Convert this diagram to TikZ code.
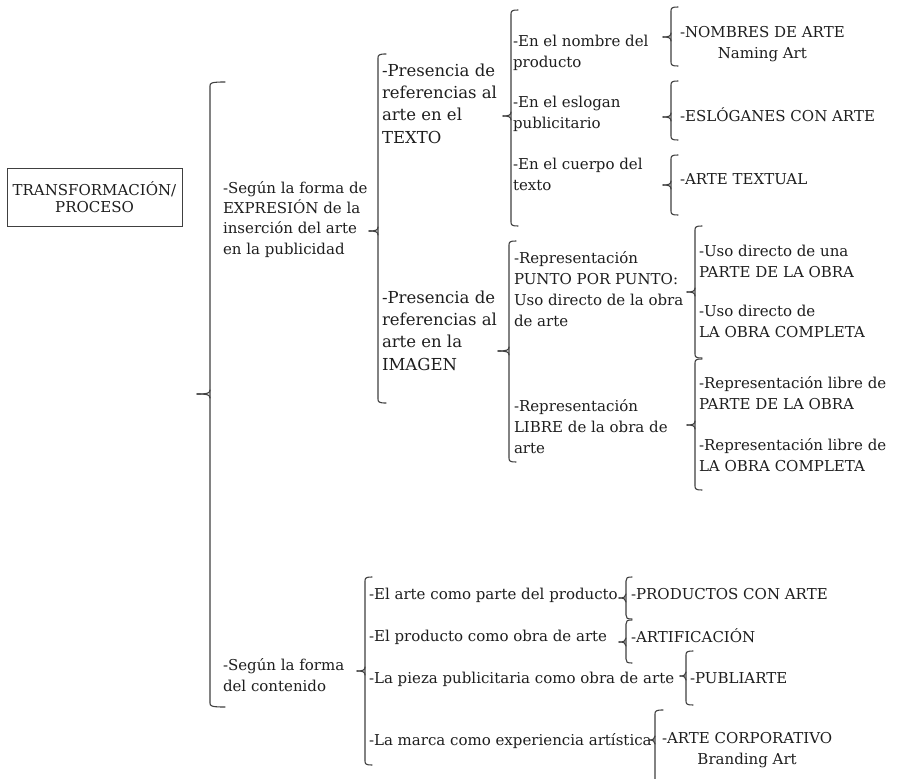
\documentclass[tikz,border=0pt]{standalone}
\usepackage{fontspec}
\setmainfont{DejaVu Serif}
\definecolor{textc}{HTML}{1E1E1E}
\definecolor{linec}{HTML}{404040}
\newcommand\bracketx[6]{%
  \draw[brline] ({#1+#6},#2) .. controls ({#1+1},#2) and (#1,{#2+1}) .. (#1,{#2+4})
    -- (#1,{#4-4}) .. controls (#1,{#4-1}) and ({#1+1},#4) .. ({#1+#6},#4);
  \draw[brline] ({#1-#5},#3) .. controls ({#1-2},#3) and (#1,{#3-1}) .. (#1,{#3-4});
  \draw[brline] ({#1-#5},#3) .. controls ({#1-2},#3) and (#1,{#3+1}) .. (#1,{#3+4});
}
\tikzset{
  brline/.style={draw=linec, line width=1.1pt, line cap=round},
  txt/.style={anchor=base west, inner sep=0pt, outer sep=0pt, align=left, text=textc,
    font=\fontsize{15}{21}\selectfont},
  txtc/.style={txt, align=center},
  bigtxt/.style={txt, font=\fontsize{16.5}{22.3}\selectfont},
  lvtxt/.style={txt, font=\fontsize{15}{20.3}\selectfont},
  boxnode/.style={draw=linec, line width=1pt, minimum width=175pt, minimum height=58pt,
    inner sep=0pt, align=center, text=textc, font=\fontsize{15}{17.5}\selectfont}
}
\begin{document}
\begin{tikzpicture}[x=1pt,y=-1pt]
\useasboundingbox (0,0) rectangle (898,779);
\fill[white] (0,0) rectangle (898,779);
\clip (0,0) rectangle (898,779);

% root box
\node[boxnode] (root) at (94.5,197) {TRANSFORMACIÓN/\\PROCESO};

% level 1 bracket
\bracketx{210}{82}{394}{707}{13}{15}
% (base anchor = baseline of the last line)
\node[lvtxt] (expr) at (223,254) {-Según la forma de\\EXPRESIÓN de la\\inserción del arte\\en la publicidad};
\node[lvtxt] (cont) at (223,691) {-Según la forma\\del contenido};

% expression branch
\bracketx{378}{54}{231}{403}{9}{8}
\node[bigtxt] (texto) at (382,143) {-Presencia de\\referencias al\\arte en el\\TEXTO};
\node[bigtxt] (imagen) at (382,370) {-Presencia de\\referencias al\\arte en la\\IMAGEN};

% texto branch
\bracketx{511}{10}{116}{226}{8}{7}
\node[txt] (nombre) at (513,67) {-En el nombre del\\producto};
\node[txt] (eslogan) at (513,128) {-En el eslogan\\publicitario};
\node[txt] (cuerpo) at (513,190) {-En el cuerpo del\\texto};

\bracketx{671}{7}{37}{66}{8}{7}
\bracketx{671}{81}{117}{140}{8}{7}
\bracketx{671}{155}{185}{215}{8}{7}
\node[txtc] (naming) at (680,58) {-NOMBRES DE ARTE\\Naming Art};
\node[txt] (eslog) at (680,121) {-ESLÓGANES CON ARTE};
\node[txt] (textual) at (680,184) {-ARTE TEXTUAL};

% imagen branch
\bracketx{509}{241}{351}{462}{11}{7}
\node[txt] (punto) at (514,326) {-Representación\\PUNTO POR PUNTO:\\Uso directo de la obra\\de arte};
\node[txt] (libre) at (514,453) {-Representación\\LIBRE de la obra de\\arte};

\bracketx{695}{226}{292}{358}{8}{7}
\bracketx{695}{359}{425}{490}{8}{7}
\node[txt] (usoparte) at (699,277) {-Uso directo de una\\PARTE DE LA OBRA};
\node[txt] (usocompleta) at (699,337) {-Uso directo de\\LA OBRA COMPLETA};
\node[txt] (libreparte) at (699,409) {-Representación libre de\\PARTE DE LA OBRA};
\node[txt] (librecompleta) at (699,471) {-Representación libre de\\LA OBRA COMPLETA};

% contenido branch
\bracketx{365}{577}{671}{765}{8}{7}
\node[txt] (parte) at (369,599) {-El arte como parte del producto};
\node[txt] (producto) at (369,641) {-El producto como obra de arte};
\node[txt] (pieza) at (369,683) {-La pieza publicitaria como obra de arte};
\node[txt] (marca) at (369,745) {-La marca como experiencia artística};

\bracketx{626}{577}{598}{619}{7}{6}
\bracketx{626}{620}{642}{663}{7}{6}
\node[txt] (prodarte) at (631,599) {-PRODUCTOS CON ARTE};
\node[txt] (artif) at (631,642) {-ARTIFICACIÓN};

\bracketx{686}{651}{676}{705}{6}{7}
\node[txt] (publi) at (690,683) {-PUBLIARTE};

\bracketx{655}{710}{740}{800}{6}{8}
\node[txtc] (corp) at (662,764) {-ARTE CORPORATIVO\\Branding Art};
\end{tikzpicture}
\end{document}
